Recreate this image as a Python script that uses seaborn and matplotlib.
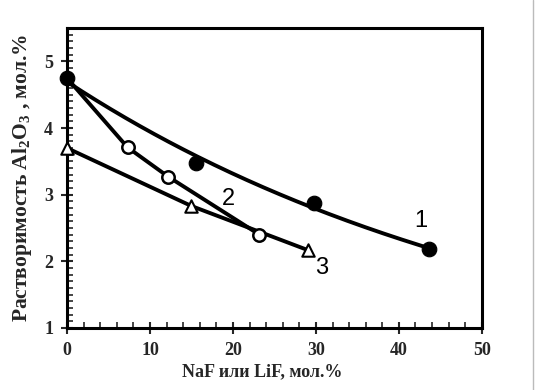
import numpy as np
import pandas as pd
import matplotlib
matplotlib.use("Agg")
import matplotlib.pyplot as plt
import seaborn as sns
from matplotlib.ticker import MultipleLocator

sns.set_theme(style="white")
plt.rcParams['font.family'] = ['Liberation Serif', 'DejaVu Serif']
plt.rcParams['mathtext.fontset'] = 'custom'
plt.rcParams['mathtext.rm'] = 'Liberation Serif'
plt.rcParams['mathtext.bf'] = 'Liberation Serif:bold'

# Series 1 (filled circles, exponential trend)
x1 = [0, 15.5, 29.8, 43.6]
y1 = [4.75, 3.47, 2.88, 2.18]
# Series 2 (open circles), starts at common point
x2 = [0, 7.3, 12.2, 23.2]
y2 = [4.75, 3.71, 3.27, 2.40]
# Series 3 (open triangles)
x3 = [0, 15.0, 29.0]
y3 = [3.70, 2.83, 2.17]

labels = ["1", "2", "3"]
label_pos_x = [42.6, 19.4, 30.7]
label_pos_y = [2.61, 2.94, 1.90]

fig = plt.figure(figsize=(5.36, 3.90), dpi=100)
ax = fig.add_axes([0.125, 0.159, 0.774, 0.769])

# exponential trendline for series 1
b, lna = np.polyfit(np.array(x1), np.log(np.array(y1)), 1)
xf = np.linspace(min(x1), max(x1), 200)
yf = np.exp(lna) * np.exp(b * xf)
sns.lineplot(x=xf, y=yf, ax=ax, color='black', lw=2.8, zorder=2)

sns.lineplot(x=x2, y=y2, ax=ax, color='black', lw=2.8, sort=False, zorder=2)
sns.lineplot(x=x3, y=y3, ax=ax, color='black', lw=2.8, sort=False, zorder=2)

sns.scatterplot(x=x1, y=y1, ax=ax, color='black', s=110, edgecolor='black', zorder=4)
sns.scatterplot(x=x2[1:], y=y2[1:], ax=ax, color='white', s=80, edgecolor='black',
                linewidth=1.8, zorder=4)
sns.scatterplot(x=x3, y=y3, ax=ax, color='white', s=80, marker='^', edgecolor='black',
                linewidth=1.5, zorder=4)
for art in ax.collections + ax.lines:
    art.set_clip_on(False)

for t, lx, ly in zip(labels, label_pos_x, label_pos_y):
    ax.text(lx, ly, t, fontsize=17, family=['Liberation Sans', 'DejaVu Sans'],
            fontweight='medium', ha='center', va='center', color='black')

ax.set_xlim(0, 50)
ax.set_ylim(1, 5.5)
ax.xaxis.set_major_locator(MultipleLocator(10))
ax.xaxis.set_minor_locator(MultipleLocator(2))
ax.yaxis.set_major_locator(MultipleLocator(1))
ax.yaxis.set_minor_locator(MultipleLocator(0.1))
ax.tick_params(axis='both', which='major', direction='inout', length=8, width=1.5,
               labelsize=13, bottom=True, left=True, pad=6)
ax.tick_params(axis='both', which='minor', direction='in', length=4, width=1.2,
               bottom=True, left=True)
for lab in ax.get_xticklabels() + ax.get_yticklabels():
    lab.set_fontweight('bold')
for sp in ax.spines.values():
    sp.set_linewidth(2.2)
    sp.set_color('black')

ax.set_xlabel("NaF или LiF, мол.%", fontsize=13, fontweight='bold', labelpad=3)
ax.xaxis.label.set_x(0.47)
ax.set_ylabel(r"Растворимость Al$_\mathbf{2}$O$_\mathbf{3}$ , мол.%", fontsize=15.5,
              fontweight='bold', labelpad=7)

fig.add_artist(plt.Line2D([0.994, 0.994], [0, 1], color='#bbbbbb', lw=1,
                          transform=fig.transFigure))

fig.savefig("out.png", dpi=100)
